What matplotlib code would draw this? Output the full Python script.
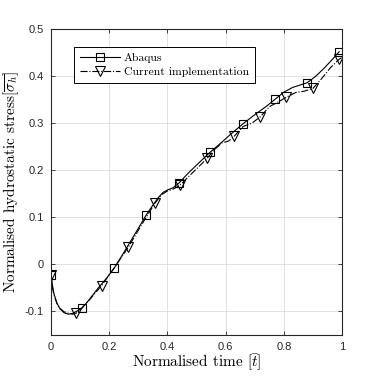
import matplotlib
matplotlib.use('Agg')
import matplotlib.pyplot as plt
from matplotlib.lines import Line2D
from matplotlib.ticker import FormatStrFormatter

plt.rcParams['axes.unicode_minus'] = False
plt.rcParams['mathtext.fontset'] = 'cm'

# Abaqus reference curve
abaqus_t = [0, 0.005, 0.01, 0.02, 0.03, 0.045, 0.06, 0.075, 0.09, 0.107,
            0.13, 0.16, 0.19, 0.217, 0.25, 0.28, 0.31, 0.326, 0.35, 0.37,
            0.385, 0.40, 0.42, 0.44, 0.47, 0.50, 0.546, 0.58, 0.62, 0.66,
            0.70, 0.74, 0.77, 0.80, 0.83, 0.86, 0.88, 0.91, 0.94, 0.97, 0.99]
abaqus_s = [-0.022, -0.045, -0.062, -0.082, -0.094, -0.103, -0.106, -0.104, -0.099, -0.093,
            -0.076, -0.052, -0.030, -0.008, 0.025, 0.056, 0.087, 0.104, 0.126, 0.143,
            0.153, 0.158, 0.163, 0.173, 0.193, 0.211, 0.238, 0.256, 0.278, 0.299,
            0.318, 0.336, 0.351, 0.366, 0.376, 0.382, 0.386, 0.400, 0.418, 0.438, 0.452]
abaqus_marks = [0, 9, 13, 17, 23, 26, 29, 32, 36, 40]

# Current implementation curve
impl_t = [0, 0.005, 0.01, 0.02, 0.03, 0.045, 0.06, 0.075, 0.086, 0.10,
          0.13, 0.174, 0.22, 0.265, 0.31, 0.357, 0.38, 0.40, 0.42, 0.443,
          0.47, 0.50, 0.536, 0.56, 0.587, 0.61, 0.629, 0.66, 0.69, 0.718,
          0.75, 0.78, 0.808, 0.84, 0.87, 0.90, 0.93, 0.96, 0.99, 1.0]
impl_s = [-0.022, -0.050, -0.065, -0.083, -0.093, -0.101, -0.104, -0.106, -0.104, -0.096,
          -0.077, -0.045, -0.005, 0.036, 0.083, 0.130, 0.148, 0.156, 0.160, 0.168,
          0.185, 0.203, 0.225, 0.243, 0.258, 0.262, 0.272, 0.293, 0.300, 0.313,
          0.335, 0.345, 0.355, 0.365, 0.368, 0.374, 0.395, 0.418, 0.436, 0.440]
impl_marks = [0, 8, 11, 13, 15, 19, 22, 26, 29, 32, 35, 38]

sq_style = dict(color='black', linewidth=0.8, linestyle='-', marker='s', markersize=6,
                markerfacecolor='none', markeredgewidth=0.8)
tri_style = dict(color='black', linewidth=0.8, linestyle='-.', marker='v', markersize=7.5,
                 markerfacecolor='none', markeredgewidth=0.8)

fig = plt.figure(figsize=(3.78, 3.78), dpi=100)
ax = fig.add_axes([0.135, 0.114, 0.77, 0.809])

ax.plot(abaqus_t, abaqus_s, markevery=abaqus_marks, **sq_style)
ax.plot(impl_t, impl_s, markevery=impl_marks, **tri_style)

ax.set_xlim(0, 1)
ax.set_ylim(-0.15, 0.5)
ax.set_xticks([0, 0.2, 0.4, 0.6, 0.8, 1])
ax.set_yticks([-0.1, 0, 0.1, 0.2, 0.3, 0.4, 0.5])
ax.xaxis.set_major_formatter(FormatStrFormatter('%g'))
ax.yaxis.set_major_formatter(FormatStrFormatter('%g'))
ax.tick_params(direction='in', top=True, right=True, length=3, width=0.6,
               labelsize=8, colors='#262626', pad=5)
for lbl in ax.get_xticklabels() + ax.get_yticklabels():
    lbl.set_family('Liberation Sans')
for sp in ax.spines.values():
    sp.set_linewidth(0.8)
    sp.set_color('#262626')
ax.grid(True, color='#dcdcdc', linewidth=0.6)

ax.set_xlabel(r'Normalised time $[\bar{t}]$', fontfamily='cmr10', fontsize=11, labelpad=1)
ax.set_ylabel(r'Normalised hydrostatic stress$[\overline{\sigma_h}]$', fontfamily='cmr10',
              fontsize=11, labelpad=3)

handles = [Line2D([], [], **sq_style), Line2D([], [], **tri_style)]
leg = ax.legend(handles, ['Abaqus', 'Current implementation'], loc='upper left',
                bbox_to_anchor=(0.079, 0.941), borderaxespad=0, numpoints=1,
                fancybox=False, edgecolor='black', framealpha=1, handlelength=3.4,
                prop={'family': 'cmr10', 'size': 8.5}, borderpad=0.5, labelspacing=0.3,
                handletextpad=0.3)
leg.get_frame().set_linewidth(0.7)

fig.savefig('out.png', dpi=100)
